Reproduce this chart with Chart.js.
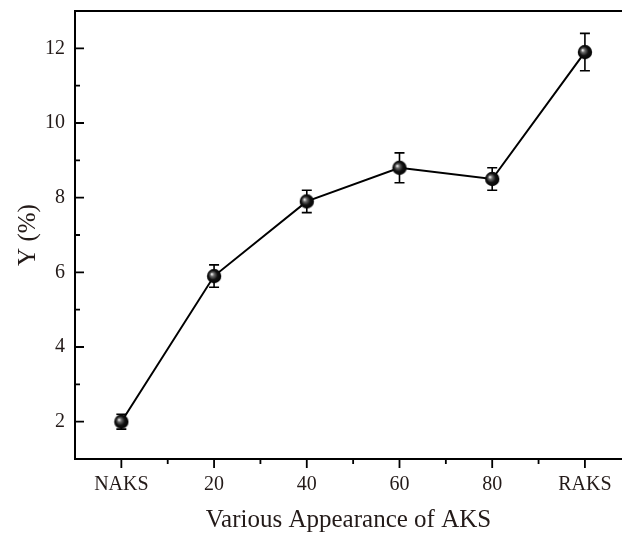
<!DOCTYPE html>
<html>
<head>
<meta charset="utf-8">
<script src="https://cdn.jsdelivr.net/npm/chart.js@4.4.1/dist/chart.umd.min.js"></script>
<style>
html,body{margin:0;padding:0;background:#fff;overflow:hidden;}
#box{width:622px;height:535px;position:relative;}
</style>
</head>
<body>
<div id="box"><canvas id="aksChart"></canvas></div>
<script>
// data
const categories = ["NAKS", "20", "40", "60", "80", "RAKS"];
const yValues = [2.0, 5.9, 7.9, 8.8, 8.5, 11.9];
const yErrors = [0.2, 0.3, 0.3, 0.4, 0.3, 0.5];
const yTickValues = [2, 4, 6, 8, 10, 12];
const yMinorValues = [3, 5, 7, 9, 11];
const xMinorValues = [0.5, 1.5, 2.5, 3.5, 4.5];

const serif = "'Liberation Serif', 'Times New Roman', serif";
const textColor = "#231a18";

// shaded black ball used as marker
const ball = document.createElement("canvas");
ball.width = 16;
ball.height = 16;
const bctx = ball.getContext("2d");
const grad = bctx.createRadialGradient(5.6, 6, 0.3, 8, 8, 8);
grad.addColorStop(0, "#f4f4f4");
grad.addColorStop(0.22, "#6a6a6a");
grad.addColorStop(0.55, "#111");
grad.addColorStop(1, "#000");
bctx.fillStyle = grad;
bctx.beginPath();
bctx.arc(8, 8, 7.2, 0, Math.PI * 2);
bctx.fill();

// error bars, drawn under the markers
const errorBars = {
  id: "errorBars",
  beforeDatasetsDraw(chart) {
    const ctx = chart.ctx;
    const xs = chart.scales.x;
    const ys = chart.scales.y;
    ctx.save();
    ctx.strokeStyle = "#000";
    ctx.lineWidth = 1.6;
    yValues.forEach((v, i) => {
      const px = xs.getPixelForValue(i);
      const top = ys.getPixelForValue(v + yErrors[i]);
      const bot = ys.getPixelForValue(v - yErrors[i]);
      ctx.beginPath();
      ctx.moveTo(px, top);
      ctx.lineTo(px, bot);
      ctx.moveTo(px - 5, top);
      ctx.lineTo(px + 5, top);
      ctx.moveTo(px - 5, bot);
      ctx.lineTo(px + 5, bot);
      ctx.stroke();
    });
    ctx.restore();
  }
};

// frame + tick marks (y ticks point inward, x ticks outward)
const frameTicks = {
  id: "frameTicks",
  afterDraw(chart) {
    const ctx = chart.ctx;
    const a = chart.chartArea;
    const xs = chart.scales.x;
    const ys = chart.scales.y;
    ctx.save();
    ctx.strokeStyle = "#000";
    ctx.lineWidth = 2;
    ctx.beginPath();
    ctx.moveTo(a.right + 2, a.top);
    ctx.lineTo(a.left, a.top);
    ctx.lineTo(a.left, a.bottom);
    ctx.lineTo(a.right + 2, a.bottom);
    ctx.stroke();

    ctx.lineWidth = 1.8;
    ctx.beginPath();
    yTickValues.forEach(v => {
      const py = ys.getPixelForValue(v);
      ctx.moveTo(a.left, py);
      ctx.lineTo(a.left + 9, py);
    });
    yMinorValues.forEach(v => {
      const py = ys.getPixelForValue(v);
      ctx.moveTo(a.left, py);
      ctx.lineTo(a.left + 5, py);
    });
    categories.forEach((c, i) => {
      const px = xs.getPixelForValue(i);
      ctx.moveTo(px, a.bottom);
      ctx.lineTo(px, a.bottom + 9);
    });
    xMinorValues.forEach(v => {
      const px = xs.getPixelForValue(v);
      ctx.moveTo(px, a.bottom);
      ctx.lineTo(px, a.bottom + 5);
    });
    ctx.stroke();
    ctx.restore();
  }
};

new Chart(document.getElementById("aksChart"), {
  type: "line",
  data: {
    datasets: [{
      data: categories.map((c, i) => ({ x: i, y: yValues[i] })),
      borderColor: "#000",
      borderWidth: 2,
      pointStyle: ball,
      pointRadius: 8,
      pointHoverRadius: 8,
      tension: 0
    }]
  },
  options: {
    responsive: true,
    maintainAspectRatio: false,
    animation: false,
    events: [],
    layout: { autoPadding: false, padding: { top: 11, right: 0, left: 0, bottom: 0 } },
    plugins: {
      legend: { display: false },
      tooltip: { enabled: false }
    },
    scales: {
      x: {
        type: "linear",
        min: -0.5,
        max: 5.4,
        grid: { display: false, drawTicks: false },
        border: { display: false },
        afterBuildTicks: axis => { axis.ticks = categories.map((c, i) => ({ value: i })); },
        afterFit: axis => {
          axis.height = 76;
          axis.paddingLeft = 0;
          axis.paddingRight = 0;
        },
        ticks: {
          callback: v => categories[v],
          color: textColor,
          font: { family: serif, size: 20 },
          padding: 14,
          maxRotation: 0
        },
        title: {
          display: true,
          text: "Various Appearance of AKS",
          color: textColor,
          font: { family: serif, size: 25, lineHeight: 1 },
          padding: { top: 0, bottom: 2 }
        }
      },
      y: {
        min: 1,
        max: 13,
        grid: { display: false, drawTicks: false },
        border: { display: false },
        afterBuildTicks: axis => { axis.ticks = yTickValues.map(v => ({ value: v })); },
        afterFit: axis => {
          axis.width = 75;
          axis.paddingTop = 0;
          axis.paddingBottom = 0;
        },
        ticks: {
          color: textColor,
          font: { family: serif, size: 20 },
          padding: 10
        },
        title: {
          display: true,
          text: "Y (%)",
          color: textColor,
          font: { family: serif, size: 25 },
          padding: { top: 13, bottom: 0 }
        }
      }
    }
  },
  plugins: [errorBars, frameTicks]
});
</script>
</body>
</html>
